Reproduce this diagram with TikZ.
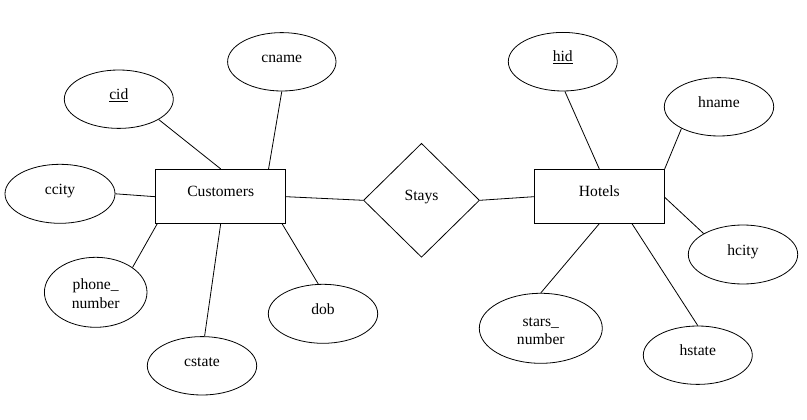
\documentclass[tikz,border=0pt]{standalone}
\usepackage{fontspec}
\setmainfont{Liberation Serif}
\newfontfamily\erfont{Liberation Serif}
\usetikzlibrary{shapes.geometric,calc}
\tikzset{
  attr/.style={draw, ellipse, inner sep=0pt, line width=0.8pt},
  entity/.style={draw, rectangle, inner sep=0pt, minimum width=130pt, minimum height=54pt, line width=0.8pt},
  rel/.style={draw, diamond, inner sep=0pt, minimum width=116pt, minimum height=114pt, line width=0.8pt},
  lbl/.style={anchor=base, inner sep=0pt, font=\erfont\fontsize{15.6}{18.5}\selectfont},
  conn/.style={line width=0.8pt}
}
\begin{document}
\begin{tikzpicture}[x=1pt,y=-1pt]
\useasboundingbox (0,0) rectangle (807,420);
% entities and relationship
\node[entity] (cust) at (220.7,196.3) {};
\node[entity] (hot) at (599.3,196.3) {};
\node[rel] (stays) at (421.5,200.3) {};
% attributes
\node[attr, minimum width=109pt, minimum height=58.4pt] (cid) at (118.8,99.2) {};
\node[attr, minimum width=108.4pt, minimum height=58.4pt] (cname) at (281.8,61.8) {};
\node[attr, minimum width=110pt, minimum height=59pt] (ccity) at (60,193.8) {};
\node[attr, minimum width=102.6pt, minimum height=70pt] (phone) at (95.7,292.3) {};
\node[attr, minimum width=109.4pt, minimum height=58.4pt] (cstate) at (202,365.8) {};
\node[attr, minimum width=109.4pt, minimum height=59pt] (dob) at (323,313.8) {};
\node[attr, minimum width=109pt, minimum height=58.6pt] (hid) at (562.8,61.7) {};
\node[attr, minimum width=109.4pt, minimum height=58.4pt] (hname) at (719,106.8) {};
\node[attr, minimum width=109.4pt, minimum height=59pt] (hcity) at (743,254.5) {};
\node[attr, minimum width=123pt, minimum height=70pt] (stars) at (540.8,328.3) {};
\node[attr, minimum width=109pt, minimum height=58.4pt] (hstate) at (697.8,355.2) {};
% labels
\node[lbl] (t-cust) at ($(cust.center)+(0,0.5)$) {Customers};
\node[lbl] (t-hot) at ($(hot.center)+(0,0.5)$) {Hotels};
\node[lbl] (t-stays) at ($(stays.center)+(0,0)$) {Stays};
\node[lbl] (t-cid) at (cid.center) {\underline{cid}};
\node[lbl] (t-cname) at ($(cname.center)+(0,0.5)$) {cname};
\node[lbl] (t-ccity) at ($(ccity.center)+(0,0.5)$) {ccity};
\node[lbl] (t-phone1) at ($(phone.center)+(0,-3)$) {phone\_};
\node[lbl] (t-phone2) at ($(phone.center)+(0,16)$) {number};
\node[lbl] (t-cstate) at ($(cstate.center)+(0,0.5)$) {cstate};
\node[lbl] (t-dob) at ($(dob.center)+(0,0.5)$) {dob};
\node[lbl] (t-hid) at (hid.center) {\underline{hid}};
\node[lbl] (t-hname) at ($(hname.center)+(0,0.5)$) {hname};
\node[lbl] (t-hcity) at ($(hcity.center)+(0,0.5)$) {hcity};
\node[lbl] (t-stars1) at ($(stars.center)+(0,-2.3)$) {stars\_};
\node[lbl] (t-stars2) at ($(stars.center)+(0,16)$) {number};
\node[lbl] (t-hstate) at ($(hstate.center)+(0,0)$) {hstate};
% connectors
\draw[conn] (cid.-27) -- (cust.north);
\draw[conn] (cname.south) -- ($(cust.north west)!0.866!(cust.north east)$);
\draw[conn] (ccity.east) -- ($(cust.west)+(0,0.4)$);
\draw[conn] (phone.34.7) -- ($(cust.south west)!0.015!(cust.south east)$);
\draw[conn] (cstate.85.5) -- (cust.south);
\draw[conn] (dob.99) -- ($(cust.south west)!0.969!(cust.south east)$);
\draw[conn] ($(cust.east)+(0,0.4)$) -- (stays.west);
\draw[conn] (stays.east) -- ($(hot.west)+(0,0.4)$);
\draw[conn] (hid.-86) -- (hot.north);
\draw[conn] (hname.-150) -- (hot.north east);
\draw[conn] (hcity.152) -- ($(hot.east)+(0,1)$);
\draw[conn] (stars.north) -- (hot.south);
\draw[conn] (hstate.north) -- ($(hot.south west)!0.75!(hot.south east)$);
\end{tikzpicture}
\end{document}
